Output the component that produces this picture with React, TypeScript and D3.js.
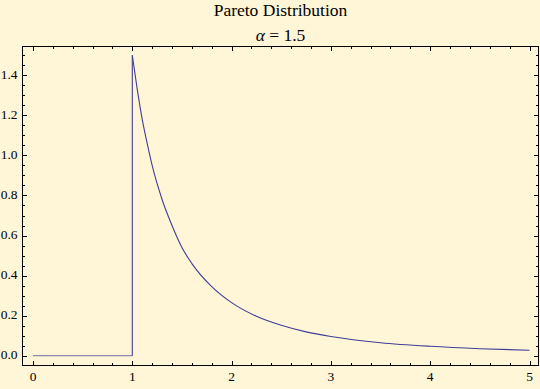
import React from "react";
import * as d3 from "d3";

const title = "Pareto Distribution";
const subtitle = "= 1.5";
const xTicks = [0, 1, 2, 3, 4, 5];
const yTicks = [0.0, 0.2, 0.4, 0.6, 0.8, 1.0, 1.2, 1.4];
// zero part (x < 1)
const zeroX = [0, 1];
const zeroY = [0, 0];
// density part (x >= 1)
const curveX = [1, 1.05, 1.1, 1.15, 1.2, 1.3, 1.4, 1.5, 1.6, 1.8, 2, 2.25, 2.5, 2.75, 3, 3.5, 4, 4.5, 5];
const curveY = [1.5, 1.33, 1.18, 1.06, 0.95, 0.78, 0.65, 0.54, 0.46, 0.345, 0.265, 0.197, 0.152, 0.119, 0.096, 0.065, 0.047, 0.035, 0.027];

export default function App() {
  const W = 540, H = 389;
  const left = 22.5, right = 538.5, top = 46.5, bottom = 365.5;
  const x = d3.scaleLinear().domain([0, 5]).range([33, 529.5]);
  const y = d3.scaleLinear().domain([0, 1.4]).range([355.7, 75.3]);
  const col = "rgb(64,62,154)";

  const xMinor = d3.range(0, 5.0001, 0.2);
  const yMinor = d3.range(-0.05, 1.5501, 0.05).filter((v) => y(v) > top && y(v) < bottom);

  const zeroLine = d3.line<number>().x((_, i) => x(zeroX[i])).y((_, i) => y(zeroY[i]))(zeroX);
  const pts = curveX.map((v, i) => [v, curveY[i]] as [number, number]);
  const curve = d3.line<[number, number]>().x((d) => x(d[0])).y((d) => y(d[1])).curve(d3.curveMonotoneX)(pts);
  const jump = `M${x(1)},${y(0)}L${x(1)},${y(1.5)}`;

  const font = "'Liberation Serif', 'Times New Roman', serif";
  const cx = (left + right) / 2;
  return (
    <svg width={W} height={H} style={{ position: "absolute", left: 0, top: 0 }}>
      <rect x={0} y={0} width={W} height={H} fill="rgb(255,245,215)" />
      <text x={cx} y={15.7} textAnchor="middle" fontFamily={font} fontSize={17.5}>{title}</text>
      <text x={cx} y={40.7} textAnchor="middle" fontFamily={font} fontSize={17.5}>
        <tspan fontStyle="italic">α</tspan> {subtitle}
      </text>
      <path d={zeroLine || ""} fill="none" stroke={col} strokeWidth={1.2} strokeOpacity={0.6} />
      <path d={jump} fill="none" stroke={col} strokeWidth={1.1} />
      <path d={curve || ""} fill="none" stroke={col} strokeWidth={1.1} />
      {/* frame */}
      <rect x={left} y={top} width={right - left} height={bottom - top} fill="none" stroke="black" strokeWidth={1} />
      {/* x ticks */}
      {xMinor.map((v, i) => {
        const major = Math.abs(v - Math.round(v)) < 1e-6;
        const len = major ? 4.5 : 2.5;
        const px = Math.round(x(v)) + 0.5;
        return (
          <g key={"x" + i}>
            <line x1={px} x2={px} y1={bottom} y2={bottom - len} stroke="black" />
            <line x1={px} x2={px} y1={top} y2={top + len} stroke="black" />
          </g>
        );
      })}
      {xTicks.map((v) => (
        <text key={"xl" + v} x={x(v)} y={381} textAnchor="middle" fontFamily={font} fontSize={13.5}>{v}</text>
      ))}
      {yMinor.map((v, i) => {
        const major = Math.abs(v * 5 - Math.round(v * 5)) < 1e-6;
        const len = major ? 4.5 : 2.5;
        const py = Math.round(y(v)) + 0.5;
        return (
          <g key={"y" + i}>
            <line x1={left} x2={left + len} y1={py} y2={py} stroke="black" />
            <line x1={right} x2={right - len} y1={py} y2={py} stroke="black" />
          </g>
        );
      })}
      {yTicks.map((v) => (
        <text key={"yl" + v} x={17.5} y={y(v) + 3.3} textAnchor="end" fontFamily={font} fontSize={13.5}>{v.toFixed(1)}</text>
      ))}
    </svg>
  );
}
